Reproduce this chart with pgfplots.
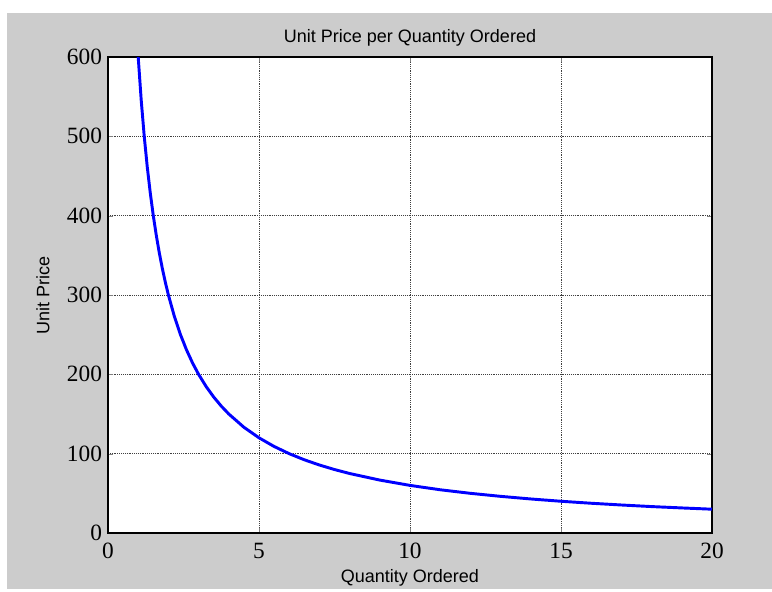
\documentclass[border=0pt]{standalone}
\usepackage{fontspec}
\setmainfont{Liberation Serif}
\newfontfamily\arial{Liberation Sans}
\usepackage{pgfplots}
\pgfplotsset{compat=1.18}
\definecolor{figgrey}{HTML}{CCCCCC}
\definecolor{mblue}{HTML}{0000FF}
\begin{document}
\begin{tikzpicture}
% page (1px = 0.75pt)
\fill[white] (-81pt,-42pt) rectangle (498pt,399.75pt);
\fill[figgrey] (-75.75pt,-42pt) rectangle (498pt,390pt);
\begin{axis}[
  at={(0pt,0pt)}, anchor=south west,
  scale only axis, width=453pt, height=357pt,
  xmin=0, xmax=20, ymin=0, ymax=600,
  xtick={0,5,10,15,20}, ytick={0,100,...,600},
  tick align=inside, tick pos=both, major tick length=4pt,
  axis line style={black, line width=0.9pt},
  axis background/.style={fill=white},
  grid=major, grid style={black!75, densely dotted, line width=0.5pt},
  ticklabel style={font=\fontsize{17.5}{19}\selectfont},
  /pgf/number format/assume math mode=true,
  xticklabel style={yshift=-4pt},
  yticklabel style={xshift=-1pt},
  title={Unit Price per Quantity Ordered},
  title style={font=\arial\fontsize{13.5}{15}\selectfont, at={(axis description cs:0.5,1)}, anchor=center, yshift=8pt},
  xlabel={Quantity Ordered},
  xlabel style={font=\arial\fontsize{13.5}{15}\selectfont, at={(axis description cs:0.5,0)}, anchor=center, yshift=-34pt},
  ylabel={Unit Price},
  ylabel style={font=\arial\fontsize{13.5}{15}\selectfont, at={(axis description cs:0,0.5)}, anchor=center, yshift=48.75pt},
]
\addplot[mblue, line width=2.2pt, line join=round] coordinates {
  (1,600) (1.1,545.5) (1.2,500) (1.3,461.5) (1.4,428.6) (1.5,400)
  (1.6,375) (1.7,352.9) (1.8,333.3) (1.9,315.8) (2,300)
  (2.2,272.7) (2.4,250) (2.6,230.8) (2.8,214.3) (3,200)
  (3.25,184.6) (3.5,171.4) (3.75,160) (4,150) (4.5,133.3)
  (5,120) (5.5,109.1) (6,100) (6.5,92.3) (7,85.7) (7.5,80)
  (8,75) (9,66.7) (10,60) (11,54.5) (12,50) (13,46.2)
  (14,42.9) (15,40) (16,37.5) (17,35.3) (18,33.3) (19,31.6) (20,30)
};
\end{axis}
\end{tikzpicture}
\end{document}
